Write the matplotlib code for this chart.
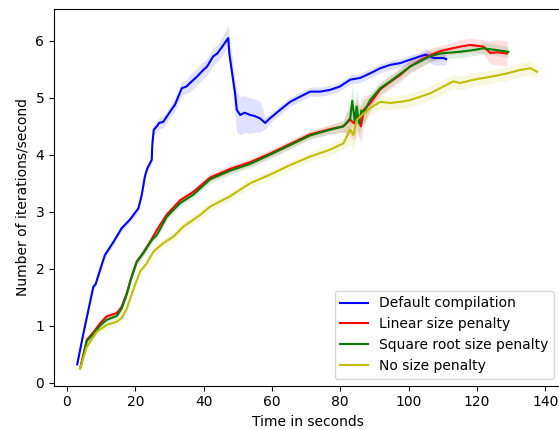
import matplotlib
matplotlib.use("Agg")
import matplotlib.pyplot as plt
import numpy as np

# ---- Data ----
t_default = [3, 4.8, 7.7, 8.4, 9.7, 11.1, 13.6, 16.0, 18.4, 20.9, 21.9, 22.8, 23.5, 24.8,
             25.0, 25.4, 26.3, 27.0, 28.2, 30.2, 31.6, 33.6, 35.0, 36, 38.0, 39.9, 41.0,
             42.8, 44.0, 45.8, 47.2, 47.5, 48.2, 49.2, 49.7, 50.7, 52.0, 53.6, 55.0, 56.5,
             58.0, 59.4, 62.4, 65.3, 68.2, 71.2, 74.1, 77, 79.9, 82.9, 85.8, 88.7, 91.7,
             94.6, 97.5, 100.4, 103.4, 105.0, 107.3, 110.2, 111]
v_default = [0.32, 0.86, 1.68, 1.73, 1.98, 2.24, 2.47, 2.71, 2.86, 3.06, 3.30, 3.62, 3.76, 3.91,
             4.20, 4.44, 4.50, 4.56, 4.58, 4.76, 4.88, 5.17, 5.20, 5.26, 5.37, 5.49, 5.55,
             5.73, 5.78, 5.93, 6.05, 5.79, 5.49, 5.08, 4.79, 4.70, 4.74, 4.70, 4.68, 4.64,
             4.56, 4.64, 4.79, 4.93, 5.02, 5.11, 5.11, 5.14, 5.20, 5.32, 5.35, 5.43, 5.52,
             5.58, 5.61, 5.67, 5.73, 5.76, 5.70, 5.70, 5.68]
lo_default = [0.03, 0.04, 0.05, 0.05, 0.05, 0.05, 0.05, 0.05, 0.05, 0.05, 0.05, 0.05, 0.05, 0.08,
              0.10, 0.10, 0.10, 0.10, 0.10, 0.10, 0.12, 0.12, 0.12, 0.15, 0.15, 0.15, 0.15,
              0.15, 0.15, 0.15, 0.15, 0.15, 0.20, 0.40, 0.40, 0.35, 0.35, 0.32, 0.28, 0.24,
              0.10, 0.08, 0.08, 0.08, 0.08, 0.08, 0.08, 0.08, 0.08, 0.08, 0.08, 0.08, 0.08,
              0.08, 0.08, 0.08, 0.08, 0.08, 0.12, 0.12, 0.10]
hi_default = [0.03, 0.04, 0.05, 0.05, 0.05, 0.05, 0.05, 0.05, 0.05, 0.05, 0.05, 0.05, 0.05, 0.08,
              0.10, 0.10, 0.10, 0.10, 0.10, 0.10, 0.12, 0.12, 0.12, 0.15, 0.15, 0.15, 0.15,
              0.15, 0.15, 0.18, 0.22, 0.30, 0.30, 0.25, 0.32, 0.32, 0.30, 0.30, 0.30, 0.30,
              0.10, 0.08, 0.08, 0.08, 0.08, 0.08, 0.08, 0.08, 0.08, 0.08, 0.08, 0.08, 0.08,
              0.08, 0.08, 0.08, 0.08, 0.10, 0.08, 0.08, 0.08]

t_linear = [4, 5.8, 7.7, 9.7, 11.6, 14.6, 16, 17.5, 18.9, 20.4, 22.3, 24.8, 26.3, 29.2, 33.1,
            37, 41.9, 47.7, 53.6, 59.4, 65.3, 71.2, 77, 80.9, 82.9, 84.0, 85.0, 86.0, 87.0,
            88.7, 91.7, 94.6, 97.5, 100.4, 103.4, 106.3, 109.2, 112.0, 115.1, 118, 121.9,
            123.9, 126.0, 128.8]
v_linear = [0.28, 0.75, 0.88, 1.04, 1.16, 1.22, 1.33, 1.57, 1.86, 2.12, 2.28, 2.52, 2.68, 2.95,
            3.20, 3.35, 3.60, 3.75, 3.87, 4.02, 4.19, 4.36, 4.45, 4.50, 4.62, 4.55, 4.70,
            4.50, 4.80, 4.90, 5.15, 5.28, 5.40, 5.55, 5.66, 5.75, 5.82, 5.86, 5.90, 5.93,
            5.90, 5.79, 5.80, 5.78]
err_linear = [0.03, 0.04, 0.04, 0.05, 0.05, 0.05, 0.05, 0.05, 0.05, 0.05, 0.05, 0.06, 0.06,
              0.06, 0.06, 0.06, 0.07, 0.07, 0.07, 0.07, 0.07, 0.07, 0.08, 0.10, 0.30, 0.30,
              0.30, 0.30, 0.25, 0.15, 0.12, 0.12, 0.12, 0.12, 0.12, 0.12, 0.10, 0.10, 0.12,
              0.12, 0.12, 0.20, 0.22, 0.22]

t_sqrt = [4, 5.8, 7.7, 9.7, 11.6, 14.6, 16, 17.5, 18.9, 20.4, 22.3, 24.8, 26.3, 29.2, 33.1,
          37, 41.9, 47.7, 53.6, 59.4, 65.3, 71.2, 77, 80.9, 82.9, 83.5, 84.2, 84.8, 85.5,
          86.2, 87.0, 88.7, 91.7, 94.6, 97.5, 100.4, 103.4, 106.3, 109.2, 115.1, 119,
          121.9, 125.8, 129.2]
v_sqrt = [0.28, 0.73, 0.85, 1.00, 1.10, 1.17, 1.30, 1.55, 1.85, 2.12, 2.27, 2.50, 2.59, 2.91,
          3.15, 3.30, 3.57, 3.72, 3.84, 4.00, 4.17, 4.34, 4.44, 4.50, 4.64, 4.95, 4.60,
          4.85, 4.55, 4.78, 4.75, 4.96, 5.17, 5.29, 5.42, 5.55, 5.64, 5.73, 5.78, 5.81,
          5.84, 5.87, 5.84, 5.81]
err_sqrt = [0.03, 0.04, 0.04, 0.05, 0.05, 0.05, 0.05, 0.05, 0.05, 0.05, 0.05, 0.06, 0.06,
            0.06, 0.06, 0.06, 0.07, 0.07, 0.07, 0.07, 0.07, 0.07, 0.08, 0.10, 0.25, 0.30,
            0.30, 0.30, 0.25, 0.25, 0.20, 0.12, 0.10, 0.10, 0.10, 0.10, 0.10, 0.10, 0.10,
            0.10, 0.10, 0.10, 0.10, 0.10]

t_none = [3.8, 5.8, 8.7, 11.6, 14.6, 16, 17.5, 19.4, 21.4, 23.3, 25.3, 28.2, 31.1, 34.1, 37,
          38.9, 41.9, 47.7, 53.6, 59.4, 65.3, 71.2, 77, 80.9, 82.9, 83.8, 84.8, 85.8,
          88.7, 91.7, 94.6, 97.5, 100.4, 103.4, 106.3, 109.2, 113.1, 115.1, 119, 123.9,
          128.8, 132.6, 135.6, 137.6]
v_none = [0.24, 0.63, 0.89, 1.01, 1.07, 1.13, 1.30, 1.63, 1.95, 2.09, 2.30, 2.45, 2.56, 2.74,
          2.86, 2.94, 3.09, 3.27, 3.50, 3.65, 3.82, 3.97, 4.09, 4.20, 4.44, 4.35, 4.61,
          4.67, 4.82, 4.93, 4.91, 4.93, 4.96, 5.02, 5.08, 5.17, 5.29, 5.26, 5.32, 5.37,
          5.43, 5.49, 5.52, 5.46]
err_none = [0.03, 0.04, 0.04, 0.05, 0.05, 0.05, 0.05, 0.05, 0.05, 0.06, 0.06, 0.07, 0.07,
            0.08, 0.08, 0.08, 0.08, 0.08, 0.08, 0.08, 0.08, 0.08, 0.10, 0.10, 0.25, 0.30,
            0.25, 0.20, 0.12, 0.12, 0.12, 0.12, 0.12, 0.12, 0.12, 0.12, 0.12, 0.12, 0.12,
            0.12, 0.12, 0.12, 0.12, 0.12]

labels = ["Default compilation", "Linear size penalty", "Square root size penalty", "No size penalty"]
colors = ["b", "r", "g", "y"]

# ---- Figure ----
fig = plt.figure(figsize=(5.59, 4.30), dpi=100)
ax = fig.add_axes([54 / 559, (430 - 385.7) / 430, (561 - 54) / 559, (385.7 - 8.5) / 430])

series = [
    (t_default, v_default, lo_default, hi_default),
    (t_linear, v_linear, err_linear, err_linear),
    (t_sqrt, v_sqrt, err_sqrt, err_sqrt),
    (t_none, v_none, err_none, err_none),
]

for (t, v, lo, hi), c, lab in zip(series, colors, labels):
    t = np.asarray(t); v = np.asarray(v)
    ax.fill_between(t, v - np.asarray(lo), v + np.asarray(hi), color=c, alpha=0.12, linewidth=0)
    ax.plot(t, v, color=c, label=lab, linewidth=1.5)

ax.set_xlim(-3.8, 144.6)
ax.set_ylim(-0.056, 6.57)
ax.set_xticks([0, 20, 40, 60, 80, 100, 120, 140])
ax.set_yticks([0, 1, 2, 3, 4, 5, 6])
ax.set_xlabel("Time in seconds")
ax.set_ylabel("Number of iterations/second")
ax.legend(loc="lower right")

fig.savefig("out.png", dpi=100)
